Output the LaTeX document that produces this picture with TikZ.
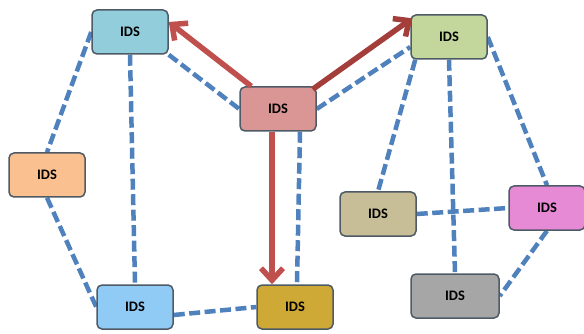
\documentclass[tikz,border=0pt]{standalone}
\usepackage{fontspec}
\setsansfont{Carlito}
\usetikzlibrary{arrows.meta}
\pgfdeclarelayer{bg}
\pgfsetlayers{bg,main}

\definecolor{boxline}{HTML}{4E5A66}
\definecolor{linkblue}{HTML}{4F81BD}
\definecolor{pushred}{HTML}{C0504D}
\definecolor{pushdark}{HTML}{A33E3A}
\definecolor{fillA}{HTML}{92CDDC}
\definecolor{fillC}{HTML}{D99694}
\definecolor{fillG}{HTML}{C3D69B}
\definecolor{fillO}{HTML}{FAC090}
\definecolor{fillB}{HTML}{8FCBF5}
\definecolor{fillY}{HTML}{CFA935}
\definecolor{fillT}{HTML}{C7BE98}
\definecolor{fillP}{HTML}{E68AD6}
\definecolor{fillR}{HTML}{A6A6A6}

\tikzset{
	idsbox/.style={draw=boxline, line width=1.5pt, rounded corners=5pt,
		minimum width=76pt, minimum height=44pt, inner sep=0pt,
		font=\sffamily\bfseries\fontsize{14.5}{16}\selectfont},
	link/.style={draw=linkblue, line width=4.5pt, dash pattern=on 11pt off 4.5pt},
	push/.style={line width=5.5pt, -{Straight Barb[length=12pt,width=22pt]}},
}

\begin{document}
\begin{tikzpicture}[x=1pt, y=-1pt]
			%%%%% START %%%%%
			\useasboundingbox (0, 0) rectangle (584, 334);
			
			\node[idsbox, fill=fillA] (A) at (130, 32) {IDS};
			\node[idsbox, fill=fillC] (C) at (278, 109) {IDS};
			\node[idsbox, fill=fillG] (G) at (449, 37) {IDS};
			\node[idsbox, fill=fillO] (O) at (47, 175) {IDS};
			\node[idsbox, fill=fillB] (B) at (135, 307) {IDS};
			\node[idsbox, fill=fillY] (Y) at (295, 307) {IDS};
			\node[idsbox, fill=fillT] (T) at (378, 214) {IDS};
			\node[idsbox, fill=fillP] (P) at (547, 208) {IDS};
			\node[idsbox, fill=fillR, minimum width=88pt] (R) at (455, 296) {IDS};
			
			\begin{pgfonlayer}{bg}
			\draw[link] (A.west) -- (O.north);
			\draw[link] (A.south) -- (B.north);
			\draw[link] (A.south east) -- (C.west);
			\draw[link] (O.south) -- (B.west);
			\draw[link] ([yshift=-8pt]B.east) -- (Y.west);
			\draw[link] ([xshift=22pt]C.south) -- ([xshift=2pt]Y.north);
			\draw[link] (C.east) -- ([yshift=-10pt]G.west);
			\draw[link] ([xshift=5pt]G.south west) -- (T.north);
			\draw[link] (G.south) -- (R.north);
			\draw[link] (G.east) -- (P.north);
			\draw[link] (T.east) -- (P.west);
			\draw[link] (P.south) -- (R.east);
			\end{pgfonlayer}
			
			\draw[push, pushred] ([xshift=12pt]C.north west) -- ([yshift=10pt]A.east);
			\draw[push, pushdark] ([xshift=-4pt,yshift=-3pt]C.north east) -- ([xshift=2pt,yshift=-4pt]G.north west);
			\draw[push, pushred] ([xshift=-6pt]C.south) -- ([xshift=-23pt]Y.north);
			
			%%%%% END %%%%%
\end{tikzpicture}
\end{document}
